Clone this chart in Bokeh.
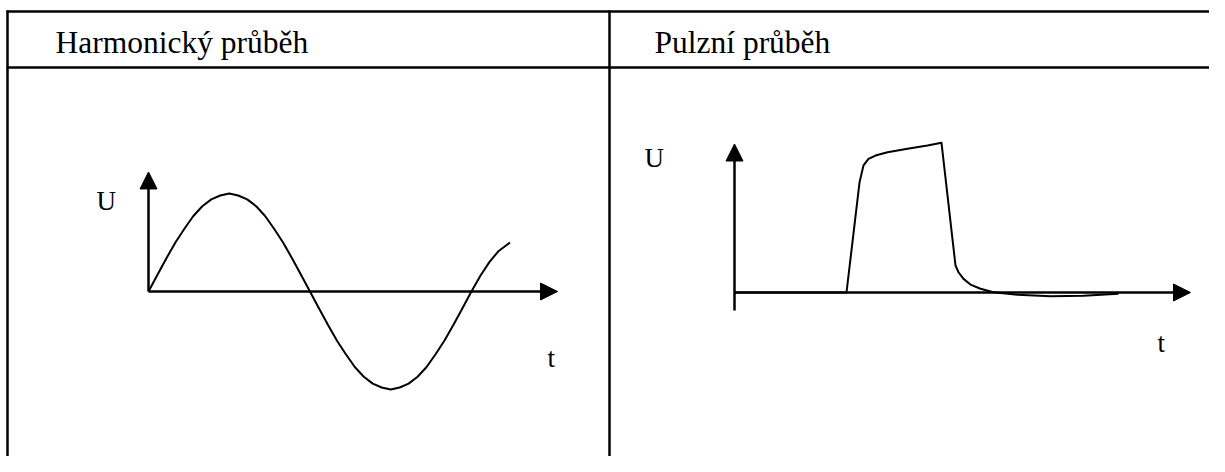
from bokeh.plotting import figure
from bokeh.models import Range1d, Arrow, NormalHead
from bokeh.core.properties import value
from bokeh.embed import file_html
from bokeh.resources import INLINE

# ---------------- data ----------------
headers = ["Harmonický průběh", "Pulzní průběh"]
label_u = "U"
label_t = "t"

# harmonic waveform: t in degrees, U relative to amplitude
harm_t = [0, 10, 20, 30, 40, 50, 60, 70, 80, 90, 100, 110, 120, 130, 140, 150, 160, 170,
          180, 190, 200, 210, 220, 230, 240, 250, 260, 270, 280, 290, 300, 310, 320, 330,
          340, 350, 360, 370, 380, 390, 403]
harm_u = [0.0, 0.17, 0.34, 0.5, 0.64, 0.77, 0.87, 0.94, 0.98, 1.0, 0.98, 0.94, 0.87, 0.77,
          0.64, 0.5, 0.34, 0.17, 0.0, -0.17, -0.34, -0.5, -0.64, -0.77, -0.87, -0.94, -0.98,
          -1.0, -0.98, -0.94, -0.87, -0.77, -0.64, -0.5, -0.34, -0.17, 0.0, 0.16, 0.3,
          0.41, 0.5]
harm_t_axis_end = 456
harm_u_axis_end = 1.22

# pulse waveform: t in arbitrary units, U relative to peak
pulse_t = [0, 11.2, 12.5, 12.7, 12.9, 13.4, 14.1, 15.3, 17.3, 19.3, 20.7,
           22.1, 22.4, 22.9, 23.6, 24.6, 25.9, 28.3, 31.6, 34.9, 38.4]
pulse_u = [0.0, 0.0, 0.733, 0.791, 0.847, 0.891, 0.913, 0.935, 0.958, 0.98, 0.998,
           0.18, 0.135, 0.091, 0.053, 0.025, 0.002, -0.015, -0.025, -0.022, -0.009]
pulse_t_axis_end = 45.6
pulse_u_axis_start = -0.12
pulse_u_axis_end = 0.99

# ---------------- layout ----------------
W, H = 1209, 456

p = figure(width=W, height=H,
           x_range=Range1d(0, W), y_range=Range1d(H, 0),
           output_backend="svg", toolbar_location=None,
           x_axis_location=None, y_axis_location=None, min_border=0)
p.grid.visible = False
p.outline_line_color = None
p.background_fill_color = "white"
p.border_fill_color = "white"

# table lines (pixel coordinates of the drawing)
p.segment(x0=[6, 6, 7, 609], y0=[11, 67, 10, 10],
          x1=[W, W, 7, 609], y1=[11, 67, H, H],
          line_color="black", line_width=2.5)

def chart_ranges(name, x0, sx, y0, sy):
    p.extra_x_ranges[name + "x"] = Range1d((0 - x0) / sx, (W - x0) / sx)
    p.extra_y_ranges[name + "y"] = Range1d((y0 - H) / sy, (y0 - 0) / sy)
    return name + "x", name + "y"

hx, hy = chart_ranges("h", 148, 0.897, 291, 98)
px_, py_ = chart_ranges("p", 734, 10.0, 292, 150)

def arrow(x0, y0, x1, y1, xr, yr):
    p.add_layout(Arrow(end=NormalHead(size=17, fill_color="black", line_color="black", line_width=1),
                       x_start=x0, y_start=y0, x_end=x1, y_end=y1,
                       x_range_name=xr, y_range_name=yr,
                       line_color="black", line_width=2.5))

# harmonic axes + curve
arrow(0, 0, 0, harm_u_axis_end, hx, hy)
arrow(0, 0, harm_t_axis_end, 0, hx, hy)
p.line(harm_t, harm_u, x_range_name=hx, y_range_name=hy,
       line_color="black", line_width=2.0, line_join="round")

# pulse axes + curve
arrow(0, pulse_u_axis_start, 0, pulse_u_axis_end, px_, py_)
arrow(0, 0, pulse_t_axis_end, 0, px_, py_)
p.line(pulse_t, pulse_u, x_range_name=px_, y_range_name=py_,
       line_color="black", line_width=2.0, line_join="round")

font = value("Liberation Serif")
p.text(x=[55, 654], y=[42, 42], text=headers, text_font=font,
       text_font_size="31.5px", text_baseline="alphabetic", text_align="left",
       text_color="black")
p.text(x=[96, 644], y=[200, 157], text=[label_u, label_u], text_font=font,
       text_font_size="27px", text_baseline="alphabetic", text_align="left",
       text_color="black")
p.text(x=[547, 1157], y=[357, 342], text=[label_t, label_t], text_font=font,
       text_font_size="27px", text_baseline="alphabetic", text_align="left",
       text_color="black")

open("out.html", "w").write(file_html(p, INLINE))
